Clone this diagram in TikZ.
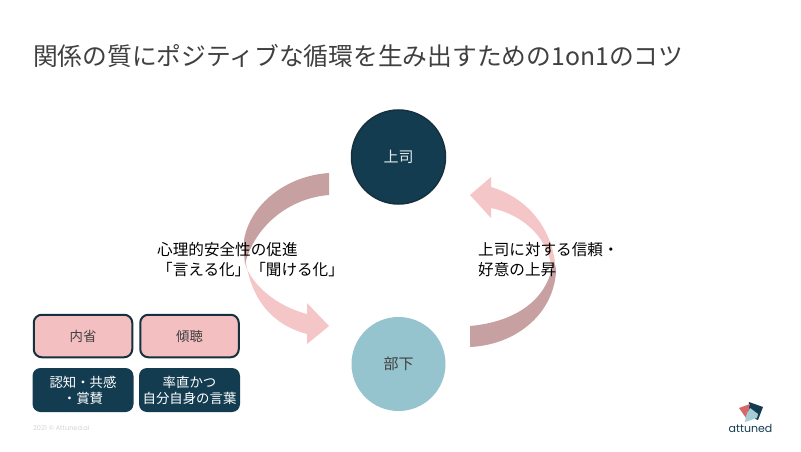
\documentclass[tikz,border=0pt]{standalone}
\usepackage{fontspec}
\setmainfont{Noto Sans CJK JP}
\newfontfamily\popp{Poppins}
\definecolor{navy}{HTML}{133C50}
\definecolor{edgeblue}{HTML}{15303F}
\definecolor{pinkfill}{HTML}{F4BFC1}
\definecolor{arrowlight}{HTML}{F5C6C7}
\definecolor{arrowdark}{HTML}{C7A0A1}
\definecolor{teal}{HTML}{95C4CE}
\definecolor{titlegray}{HTML}{404040}
\tikzset{
  person/.style={circle,minimum size=94pt,inner sep=0pt,font=\fontsize{15}{18}\selectfont},
  pinkbox/.style={rectangle,rounded corners=8pt,draw=edgeblue,line width=2pt,fill=pinkfill,minimum width=98.5pt,minimum height=42.5pt,inner sep=0pt,text=titlegray,font=\fontsize{13.4}{16}\selectfont},
  navybox/.style={rectangle,rounded corners=8pt,fill=navy,minimum width=101pt,minimum height=44pt,inner sep=0pt,text=white,align=center,font=\fontsize{13.4}{16}\selectfont},
  lbl/.style={anchor=west,inner sep=0pt,align=left,text=black,font=\fontsize{15.6}{20}\selectfont}
}
\begin{document}
\begin{tikzpicture}[x=1pt,y=-1pt]
\useasboundingbox (0,0) rectangle (801,452);
\fill[white] (0,0) rectangle (801,452);
% left arrow
\fill[arrowlight] (244,236) .. controls (244,285) and (262,322) .. (307,334) -- (307,344) -- (329,326) -- (307,303) -- (307,314)
  .. controls (276,306) and (252,285) .. (245,264) -- cycle;
\fill[arrowdark] (329,173) .. controls (285,176) and (250,205) .. (244,240) .. controls (244,247) and (244,255) .. (245,264)
  .. controls (255,225) and (290,198) .. (329,195) -- cycle;
% right arrow
\fill[arrowlight] (470,195) -- (491,177) -- (491,187) .. controls (525,197) and (550,225) .. (555,262) -- (552,272)
  .. controls (550,240) and (525,215) .. (491,208) -- (491,218) -- cycle;
\fill[arrowdark] (470,326) .. controls (515,322) and (548,300) .. (553,262) .. controls (555,262) and (556,268) .. (556,272)
  .. controls (553,315) and (515,345) .. (470,347) -- cycle;
\node[anchor=west,inner sep=0pt,text=titlegray,font=\fontsize{24.75}{28}\selectfont] (title) at (33,56) {関係の質にポジティブな循環を生み出すための1on1のコツ};
\node[person,fill=navy,draw=edgeblue,line width=1.5pt,text=white!88!navy] (boss) at (398.5,157) {上司};
\node[person,fill=teal,text=titlegray] (sub) at (398.5,364) {部下};
\node[lbl] (lefttext) at (157,259.5) {心理的安全性の促進\\「言える化」「聞ける化」};
\node[lbl] (righttext) at (478,259.5) {上司に対する信頼・\\好意の上昇};
\node[pinkbox] (naisei) at (83,336) {内省};
\node[pinkbox] (keicho) at (189.5,336) {傾聴};
\node[navybox] (ninchi) at (83,390) {認知・共感\\・賞賛};
\node[navybox] (sotchoku) at (189.5,390) {率直かつ\\自分自身の言葉};
\node[anchor=west,inner sep=0pt,text=black!17,font=\popp\fontsize{6.6}{8}\selectfont] (copy) at (33,428) {2021 © Attuned.ai};
% logo
\fill[navy] (749,402) -- (763,407) -- (758,420) -- (748,416) -- cycle;
\fill[pinkfill!50!red!70!gray] (739,408) -- (750,404) -- (746,418) -- cycle;
\fill[teal!85!white] (750,408) -- (758,414) -- (757,418) -- (745,422) -- (746,416) -- cycle;
\node[anchor=center,inner sep=0pt,text=navy,font=\popp\fontsize{11}{13}\selectfont] (brand) at (750.5,428) {attuned};
\end{tikzpicture}
\end{document}
